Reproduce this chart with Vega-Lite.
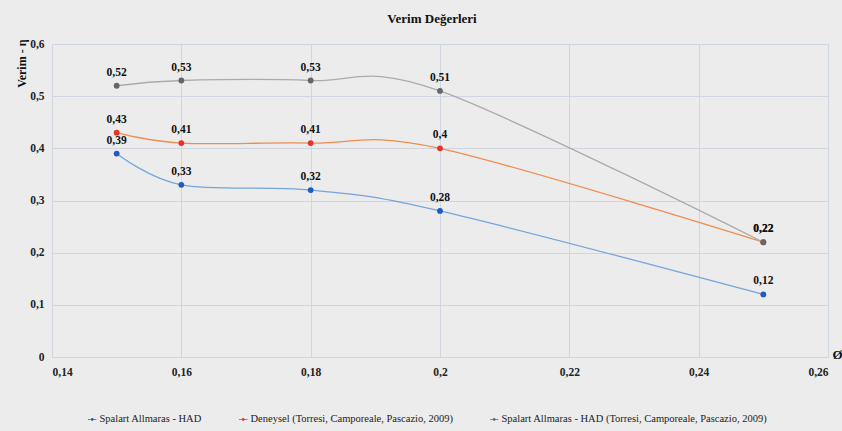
{
  "$schema": "https://vega.github.io/schema/vega-lite/v6.json",
  "autosize": {"type": "none"},
  "width": 776,
  "height": 313,
  "padding": {"left": 52, "top": 44, "right": 14, "bottom": 74},
  "background": "#ececec",
  "title": {"text": "Verim Değerleri", "font": "Liberation Serif", "fontSize": 13, "fontWeight": "bold", "color": "#111111", "anchor": "middle", "offset": 12, "dx": -8},
  "config": {
    "locale": {"number": {"decimal": ",", "thousands": ".", "grouping": [3], "currency": ["", ""]}},
    "view": {"stroke": null},
    "font": "Liberation Serif",
    "axis": {"labelFont": "Liberation Serif", "titleFont": "Liberation Serif"},
    "legend": {"labelFont": "Liberation Serif", "titleFont": "Liberation Serif"}
  },
  "data": {"values": [
    {"s": "Spalart Allmaras - HAD", "x": 0.15, "y": 0.39},
    {"s": "Spalart Allmaras - HAD", "x": 0.16, "y": 0.33},
    {"s": "Spalart Allmaras - HAD", "x": 0.18, "y": 0.32},
    {"s": "Spalart Allmaras - HAD", "x": 0.20, "y": 0.28},
    {"s": "Spalart Allmaras - HAD", "x": 0.25, "y": 0.12},
    {"s": "Deneysel (Torresi, Camporeale, Pascazio, 2009)", "x": 0.15, "y": 0.43},
    {"s": "Deneysel (Torresi, Camporeale, Pascazio, 2009)", "x": 0.16, "y": 0.41},
    {"s": "Deneysel (Torresi, Camporeale, Pascazio, 2009)", "x": 0.18, "y": 0.41},
    {"s": "Deneysel (Torresi, Camporeale, Pascazio, 2009)", "x": 0.20, "y": 0.40},
    {"s": "Deneysel (Torresi, Camporeale, Pascazio, 2009)", "x": 0.25, "y": 0.22},
    {"s": "Spalart Allmaras - HAD (Torresi, Camporeale, Pascazio, 2009)", "x": 0.15, "y": 0.52},
    {"s": "Spalart Allmaras - HAD (Torresi, Camporeale, Pascazio, 2009)", "x": 0.16, "y": 0.53},
    {"s": "Spalart Allmaras - HAD (Torresi, Camporeale, Pascazio, 2009)", "x": 0.18, "y": 0.53},
    {"s": "Spalart Allmaras - HAD (Torresi, Camporeale, Pascazio, 2009)", "x": 0.20, "y": 0.51},
    {"s": "Spalart Allmaras - HAD (Torresi, Camporeale, Pascazio, 2009)", "x": 0.25, "y": 0.22}
  ]},
  "encoding": {
    "x": {"field": "x", "type": "quantitative",
      "scale": {"domain": [0.14, 0.26], "nice": false, "zero": false},
      "axis": {"values": [0.14, 0.16, 0.18, 0.2, 0.22, 0.24, 0.26], "format": ".2~f", "title": "Ø",
        "titleFont": "Liberation Serif", "titleFontSize": 13, "titleFontWeight": "bold", "titleColor": "#111",
        "titleX": 780, "titleY": 4, "titleAlign": "left", "titleBaseline": "bottom", "titleAnchor": null,
        "labelFont": "Liberation Serif", "labelFontSize": 11.5, "labelFontWeight": "bold", "labelColor": "#222",
        "labelPadding": 9, "ticks": false, "domain": false, "grid": true, "gridColor": "#cfd6df", "gridWidth": 1}},
    "y": {"field": "y", "type": "quantitative",
      "scale": {"domain": [0, 0.6], "nice": false},
      "axis": {"values": [0, 0.1, 0.2, 0.3, 0.4, 0.5, 0.6], "format": ".1~f", "title": "Verim - η",
        "titleFont": "Liberation Serif", "titleFontSize": 12, "titleFontWeight": "bold", "titleColor": "#111",
        "titleAnchor": "end", "titlePadding": 1, "titleY": -5,
        "labelFont": "Liberation Serif", "labelFontSize": 11.5, "labelFontWeight": "bold", "labelColor": "#222",
        "labelPadding": 8, "ticks": false, "domain": false, "grid": true, "gridColor": "#cfd6df", "gridWidth": 1}}
  },
  "layer": [
    {
      "mark": {"type": "line", "interpolate": "cardinal", "strokeWidth": 1.3},
      "encoding": {
        "stroke": {"field": "s", "type": "nominal", "legend": null,
          "scale": {"domain": ["Deneysel (Torresi, Camporeale, Pascazio, 2009)", "Spalart Allmaras - HAD", "Spalart Allmaras - HAD (Torresi, Camporeale, Pascazio, 2009)"],
            "range": ["#ee8d4f", "#74a6dc", "#ababab"]}}
      }
    },
    {
      "mark": {"type": "point", "filled": true, "size": 34, "opacity": 1},
      "encoding": {
        "color": {"field": "s", "type": "nominal",
          "scale": {"domain": ["Spalart Allmaras - HAD", "Deneysel (Torresi, Camporeale, Pascazio, 2009)", "Spalart Allmaras - HAD (Torresi, Camporeale, Pascazio, 2009)"],
            "range": ["#1f5cc0", "#e5322a", "#666666"]},
          "legend": {"title": null, "orient": "none", "legendX": 35, "legendY": 370, "direction": "horizontal",
            "symbolType": "M-1,-0.08H1V0.08H-1Z M0.32,0A0.32,0.32,0,1,1,-0.32,0A0.32,0.32,0,1,1,0.32,0Z",
            "symbolSize": 72, "symbolStrokeWidth": 0, "labelFont": "Liberation Serif", "labelFontSize": 10.5,
            "labelColor": "#222", "labelLimit": 500, "columnPadding": 36, "symbolOffset": 0, "labelOffset": 2}}
      }
    },
    {
      "mark": {"type": "text", "dy": -13, "font": "Liberation Serif", "fontSize": 11.5, "fontWeight": "bold", "color": "#111"},
      "encoding": {"text": {"field": "y", "type": "quantitative", "format": ".2~f"}}
    }
  ]
}
